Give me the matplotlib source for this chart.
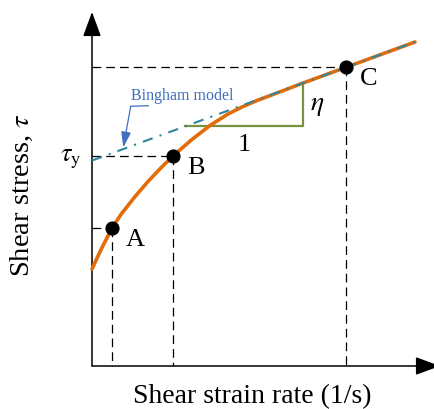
import matplotlib as mpl
mpl.use('Agg')
import matplotlib.pyplot as plt

plt.rcParams['font.family'] = ['Liberation Serif', 'DejaVu Serif']
plt.rcParams['mathtext.fontset'] = 'stix'

# flow curve (shear strain rate, shear stress), arbitrary units
rate = [0, 0.93, 2.0, 2.93, 4.27, 5.6, 6.93, 8.1, 9.93, 11.8, 13.6, 15.0,
        16.5, 18.5, 20.9, 25.4, 32.3]
stress = [9.7, 11.7, 13.8, 15.2, 16.9, 18.45, 19.85, 21.0, 22.6, 24.05, 25.2,
          25.9, 26.55, 27.3, 28.22, 29.87, 32.4]

# marked points
point_names = ['A', 'B', 'C']
point_rate = [2.0, 8.1, 25.4]
point_stress = [13.8, 21.0, 29.87]

# Bingham fit line
bingham_rate = [0, 32.3]
bingham_stress = [20.55, 32.4]

# slope triangle
tri_rate = [9.3, 21.1, 21.1]
tri_stress = [24.0, 24.0, 28.3]

orange = '#E36C09'
teal = '#31859C'
green = '#77933C'
blue = '#3F6FBF'

fig = plt.figure(figsize=(4.35, 4.1), dpi=100)
ax = fig.add_axes([0, 0, 1, 1])
ax.set_xlim(-9.2, 34.3)
ax.set_ylim(-4.3, 36.7)
ax.axis('off')

# axes with arrow heads
axis_arrow = dict(arrowstyle='-|>,head_length=0.76,head_width=0.28',
                  mutation_scale=20, lw=1.1, color='k', shrinkA=0, shrinkB=0)
ax.annotate('', xy=(0, 35.4), xytext=(0, 0), arrowprops=axis_arrow)
ax.annotate('', xy=(34.8, 0), xytext=(0, 0), arrowprops=axis_arrow,
            annotation_clip=False)

# dashed guide lines to the axes
for xr, ys in zip(point_rate, point_stress):
    ax.plot([0, xr], [ys, ys], color='k', lw=0.9, ls=(0, (7, 4)), zorder=1)
    ax.plot([xr, xr], [ys, 0], color='k', lw=0.9, ls=(0, (7, 4)), zorder=1)

ax.plot(tri_rate, tri_stress, color=green, lw=1.6, zorder=2)
ax.plot(rate, stress, color=orange, lw=2.6, solid_capstyle='round', zorder=3)
ax.plot(bingham_rate, bingham_stress, color=teal, lw=1.5,
        ls=(0, (5, 3.5, 1, 3.5)), zorder=4)
ax.plot(point_rate, point_stress, 'o', color='k', ms=9.2, zorder=5)

for name, xr, ys in zip(point_names, point_rate, point_stress):
    ax.annotate(name, xy=(xr, ys), xytext=(16.5, -8), textcoords='offset points',
                ha='center', va='center', fontsize=19)

ax.text(15.2, 22.2, '1', ha='center', va='center', fontsize=19)
ax.text(22.55, 26.2, r'$\eta$', ha='center', va='center', fontsize=20)
ax.text(-2.1, 20.8, r'$\tau_\mathrm{y}$', ha='center', va='center', fontsize=19)

# Bingham model callout
ax.text(9.0, 27.1, 'Bingham model', ha='center', va='center', fontsize=11.5,
        color=blue)
ax.plot([5.63, 3.87], [26.03, 25.97], color=blue, lw=0.9)
ax.annotate('', xy=(3.13, 21.87), xytext=(3.87, 25.97),
            arrowprops=dict(arrowstyle='-|>,head_length=0.47,head_width=0.15',
                            mutation_scale=20, lw=0.9, color=blue,
                            shrinkA=0, shrinkB=0))

ax.text(16.0, -3.0, 'Shear strain rate (1/s)', ha='center', va='center',
        fontsize=20)
ax.text(-7.0, 17.2, r'Shear stress, $\tau$', ha='center', va='center',
        rotation=90, fontsize=20.5)

fig.savefig('out.png', dpi=100)
